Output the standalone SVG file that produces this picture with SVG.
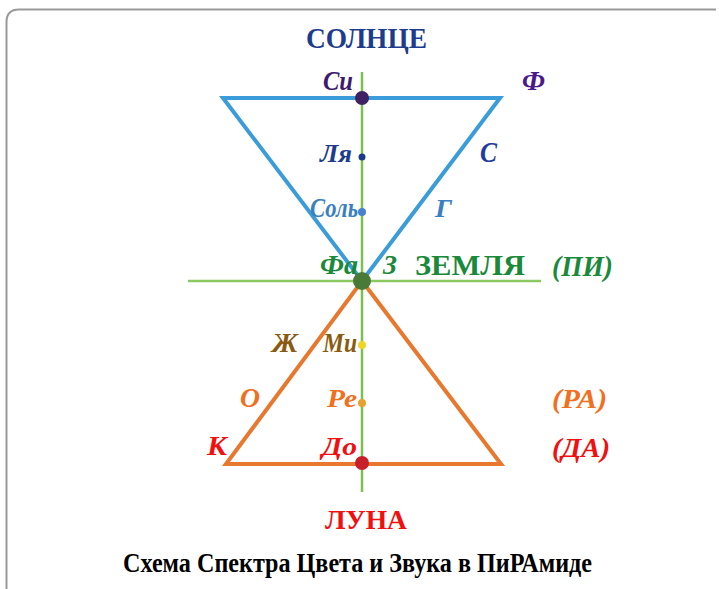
<svg xmlns="http://www.w3.org/2000/svg" width="719" height="589" viewBox="0 0 719 589">
<style>
.t{font-family:"Liberation Serif","DejaVu Serif",serif;font-weight:bold}
.i{font-style:italic}
</style>
<rect x="0" y="0" width="719" height="589" fill="#fff"/>
<path d="M6.5,590 V22 Q6.5,9.5 19,9.5 H716" fill="none" stroke="#9a9a9a" stroke-width="2"/>
<g id="connectors" fill="none" stroke-linejoin="miter">
<line x1="362" y1="72" x2="362" y2="492" stroke="#7cc050" stroke-width="2.5"/>
<line x1="188" y1="281" x2="541" y2="281" stroke="#8cc860" stroke-width="2.5"/>
<path d="M223,98 H500 L362,281 Z" stroke="#3a9cd8" stroke-width="4"/>
<path d="M362,281 L501,464 H226 Z" stroke="#e8782e" stroke-width="4"/>
</g>
<g id="sun"><text class="t" font-size="30" x="306" y="48" fill="#1e3c8c" textLength="121" lengthAdjust="spacingAndGlyphs">СОЛНЦЕ</text></g>
<g id="si"><circle cx="362" cy="98" r="7" fill="#3d2160"/><text class="t i" font-size="28" x="323" y="90" fill="#3d1a6e" textLength="30" lengthAdjust="spacingAndGlyphs">Си</text></g>
<g id="f"><text class="t i" font-size="28" x="522" y="90" fill="#4a1a8a" textLength="23" lengthAdjust="spacingAndGlyphs">Ф</text></g>
<g id="la"><circle cx="362" cy="157" r="3.5" fill="#1a3a8a"/><text class="t i" font-size="25" x="320" y="162" fill="#1e3c8c" textLength="32" lengthAdjust="spacingAndGlyphs">Ля</text></g>
<g id="s"><text class="t i" font-size="29" x="480" y="162" fill="#1e3c9c" textLength="17" lengthAdjust="spacingAndGlyphs">С</text></g>
<g id="sol"><circle cx="362" cy="212" r="4" fill="#4a80d0"/><text class="t i" font-size="27" x="310" y="217" fill="#3a80c0" textLength="48" lengthAdjust="spacingAndGlyphs">Соль</text></g>
<g id="g"><text class="t i" font-size="25" x="435" y="217" fill="#3a80c0" textLength="17" lengthAdjust="spacingAndGlyphs">Г</text></g>
<g id="fa"><circle cx="362" cy="281" r="9" fill="#4a7a38"/><text class="t i" font-size="27" x="320" y="274" fill="#1a8a3a" textLength="38" lengthAdjust="spacingAndGlyphs">Фа</text></g>
<g id="z"><text class="t i" font-size="27" x="383" y="274" fill="#1a8a3a" textLength="14" lengthAdjust="spacingAndGlyphs">З</text></g>
<g id="earth"><text class="t" font-size="29" x="415" y="275" fill="#1a8a3a" textLength="110" lengthAdjust="spacingAndGlyphs">ЗЕМЛЯ</text></g>
<g id="pi"><text class="t i" font-size="29" x="552" y="276" fill="#1a8a3a" textLength="61" lengthAdjust="spacingAndGlyphs">(ПИ)</text></g>
<g id="zh"><text class="t i" font-size="28" x="272" y="352" fill="#8a5a10" textLength="26" lengthAdjust="spacingAndGlyphs">Ж</text></g>
<g id="mi"><circle cx="362" cy="345" r="4" fill="#f0d428"/><text class="t i" font-size="27" x="323" y="352" fill="#8a5a10" textLength="34" lengthAdjust="spacingAndGlyphs">Ми</text></g>
<g id="o"><text class="t i" font-size="27" x="240" y="407" fill="#f07020" textLength="20" lengthAdjust="spacingAndGlyphs">О</text></g>
<g id="re"><circle cx="362" cy="403" r="4" fill="#e8a030"/><text class="t i" font-size="26" x="327" y="407" fill="#f07020" textLength="30" lengthAdjust="spacingAndGlyphs">Ре</text></g>
<g id="ra"><text class="t i" font-size="28" x="552" y="408" fill="#f07020" textLength="55" lengthAdjust="spacingAndGlyphs">(РА)</text></g>
<g id="k"><text class="t i" font-size="27" x="207" y="455" fill="#f01010" textLength="20" lengthAdjust="spacingAndGlyphs">К</text></g>
<g id="do"><circle cx="362" cy="463" r="7" fill="#c8202a"/><text class="t i" font-size="26" x="322" y="455" fill="#f01010" textLength="35" lengthAdjust="spacingAndGlyphs">До</text></g>
<g id="da"><text class="t i" font-size="28" x="552" y="457" fill="#f01010" textLength="58" lengthAdjust="spacingAndGlyphs">(ДА)</text></g>
<g id="moon"><text class="t" font-size="28" x="325" y="529" fill="#f01010" textLength="82" lengthAdjust="spacingAndGlyphs">ЛУНА</text></g>
<g id="caption"><text class="t" font-size="27" x="123" y="572" fill="#000" textLength="469" lengthAdjust="spacingAndGlyphs">Схема Спектра Цвета и Звука в ПиРАмиде</text></g>
</svg>
